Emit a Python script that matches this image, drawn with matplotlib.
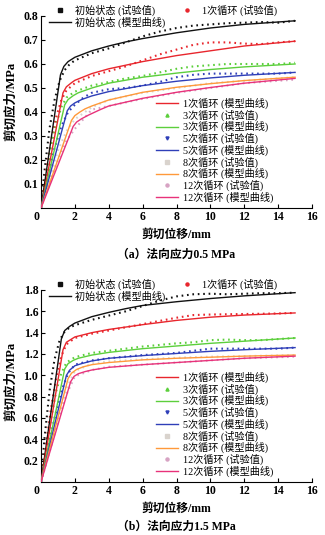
import matplotlib
matplotlib.use("Agg")
import matplotlib.pyplot as plt
from matplotlib.lines import Line2D
from matplotlib.transforms import ScaledTranslation

plt.rcParams['font.family'] = ['Liberation Serif', 'Noto Sans CJK SC']
plt.rcParams['axes.unicode_minus'] = False

# ---------------- data: normal stress 0.5 MPa ----------------
a_init_mod_x = [0, 1.15, 1.35, 1.6, 2, 3, 4, 5, 6, 8, 10, 12, 15]
a_init_mod_y = [0, 0.555, 0.59, 0.61, 0.628, 0.655, 0.675, 0.692, 0.706, 0.73, 0.75, 0.765, 0.78]
a_c1_mod_x = [0, 1.3, 1.5, 1.8, 2, 3, 4, 6, 8, 10, 12, 15]
a_c1_mod_y = [0, 0.48, 0.505, 0.522, 0.532, 0.56, 0.58, 0.61, 0.635, 0.655, 0.675, 0.695]
a_c3_mod_x = [0, 1.4, 1.6, 1.9, 2.2, 3, 4, 6, 8, 10, 12, 15]
a_c3_mod_y = [0, 0.43, 0.452, 0.468, 0.48, 0.50, 0.52, 0.545, 0.562, 0.577, 0.588, 0.60]
a_c5_mod_x = [0, 1.55, 1.75, 2.0, 2.4, 3, 4, 6, 8, 10, 12, 15]
a_c5_mod_y = [0, 0.405, 0.425, 0.438, 0.452, 0.467, 0.485, 0.51, 0.528, 0.542, 0.553, 0.565]
a_c8_mod_x = [0, 1.8, 2.0, 2.3, 2.6, 3, 4, 6, 8, 10, 12, 15]
a_c8_mod_y = [0, 0.365, 0.385, 0.40, 0.413, 0.425, 0.45, 0.482, 0.503, 0.518, 0.531, 0.545]
a_c12_mod_x = [0, 1.9, 2.1, 2.4, 2.8, 3.5, 4, 6, 8, 10, 12, 15]
a_c12_mod_y = [0, 0.34, 0.358, 0.372, 0.387, 0.41, 0.425, 0.457, 0.482, 0.502, 0.52, 0.54]

a_init_exp_x = [0, 0.2, 0.5, 0.8, 1.1, 1.4, 1.7, 2, 3, 4, 5, 6, 7, 8, 9, 10, 11, 12, 13, 14, 15]
a_init_exp_y = [0, 0.15, 0.33, 0.45, 0.53, 0.575, 0.60, 0.615, 0.645, 0.665, 0.69, 0.715, 0.735, 0.75, 0.76, 0.765, 0.77, 0.772, 0.775, 0.772, 0.78]
a_c1_exp_x = [0, 0.3, 0.6, 0.9, 1.2, 1.5, 2, 3, 4, 5, 6, 7, 8, 9, 10, 11, 12, 13, 14, 15]
a_c1_exp_y = [0, 0.15, 0.28, 0.38, 0.45, 0.49, 0.52, 0.55, 0.57, 0.59, 0.615, 0.64, 0.66, 0.68, 0.69, 0.69, 0.685, 0.683, 0.69, 0.695]
a_c3_exp_x = [0, 0.3, 0.6, 0.9, 1.2, 1.5, 2, 3, 4, 5, 6, 7, 8, 9, 10, 11, 12, 13, 14, 15]
a_c3_exp_y = [0, 0.13, 0.26, 0.35, 0.42, 0.46, 0.485, 0.51, 0.525, 0.54, 0.55, 0.565, 0.58, 0.59, 0.595, 0.60, 0.60, 0.60, 0.60, 0.605]
a_c5_exp_x = [0, 0.4, 0.8, 1.2, 1.6, 2, 2.5, 3, 4, 5, 6, 7, 8, 9, 10, 11, 12, 13, 14, 15]
a_c5_exp_y = [0, 0.13, 0.25, 0.34, 0.40, 0.43, 0.46, 0.48, 0.495, 0.50, 0.51, 0.525, 0.545, 0.555, 0.56, 0.56, 0.56, 0.56, 0.56, 0.565]
a_c8_exp_x = [0, 0.5, 1, 1.5, 2, 3, 4, 6, 8, 10, 12, 15]
a_c8_exp_y = [0, 0.12, 0.24, 0.32, 0.37, 0.42, 0.45, 0.48, 0.50, 0.52, 0.53, 0.545]
a_c12_exp_x = [0, 0.5, 1, 1.5, 2, 2.5, 3, 4, 6, 8, 10, 12, 15]
a_c12_exp_y = [0, 0.10, 0.20, 0.28, 0.33, 0.37, 0.41, 0.425, 0.455, 0.48, 0.50, 0.52, 0.535]

# ---------------- data: normal stress 1.5 MPa ----------------
b_init_mod_x = [0, 1.2, 1.4, 1.7, 2, 3, 4, 5, 6, 8, 10, 12, 15]
b_init_mod_y = [0, 1.34, 1.42, 1.46, 1.49, 1.55, 1.59, 1.625, 1.655, 1.69, 1.72, 1.745, 1.775]
b_c1_mod_x = [0, 1.3, 1.5, 1.8, 2, 3, 4, 6, 8, 10, 12, 15]
b_c1_mod_y = [0, 1.24, 1.31, 1.34, 1.36, 1.40, 1.43, 1.475, 1.515, 1.545, 1.565, 1.585]
b_c3_mod_x = [0, 1.4, 1.6, 1.9, 2.2, 3, 4, 6, 8, 10, 12, 15]
b_c3_mod_y = [0, 1.06, 1.11, 1.14, 1.16, 1.19, 1.215, 1.25, 1.275, 1.30, 1.32, 1.35]
b_c5_mod_x = [0, 1.5, 1.7, 2.0, 2.4, 3, 4, 6, 8, 10, 12, 15]
b_c5_mod_y = [0, 1.0, 1.05, 1.09, 1.11, 1.135, 1.16, 1.185, 1.205, 1.225, 1.24, 1.26]
b_c8_mod_x = [0, 1.6, 1.8, 2.1, 2.5, 3, 4, 6, 8, 10, 12, 15]
b_c8_mod_y = [0, 0.97, 1.02, 1.055, 1.08, 1.10, 1.12, 1.145, 1.16, 1.17, 1.18, 1.19]
b_c12_mod_x = [0, 1.75, 1.95, 2.2, 2.6, 3, 4, 6, 8, 10, 12, 15]
b_c12_mod_y = [0, 0.94, 0.99, 1.015, 1.035, 1.05, 1.075, 1.10, 1.12, 1.14, 1.16, 1.18]

b_init_exp_x = [0, 0.2, 0.5, 0.8, 1.1, 1.4, 1.7, 2, 3, 4, 5, 6, 7, 8, 9, 10, 11, 12, 13, 14, 15]
b_init_exp_y = [0, 0.40, 0.85, 1.15, 1.33, 1.41, 1.45, 1.47, 1.52, 1.56, 1.60, 1.65, 1.70, 1.74, 1.76, 1.765, 1.76, 1.765, 1.77, 1.77, 1.775]
b_c1_exp_x = [0, 0.3, 0.6, 0.9, 1.2, 1.5, 2, 3, 4, 6, 7, 8, 9, 10, 12, 14, 15]
b_c1_exp_y = [0, 0.35, 0.70, 0.98, 1.18, 1.29, 1.35, 1.39, 1.42, 1.48, 1.51, 1.54, 1.565, 1.57, 1.575, 1.58, 1.585]
b_c3_exp_x = [0, 0.3, 0.6, 0.9, 1.2, 1.5, 2, 3, 4, 6, 8, 9, 10, 11, 12, 13, 14, 15]
b_c3_exp_y = [0, 0.30, 0.60, 0.85, 1.02, 1.12, 1.17, 1.21, 1.23, 1.27, 1.30, 1.31, 1.33, 1.335, 1.33, 1.33, 1.34, 1.35]
b_c5_exp_x = [0, 0.4, 0.8, 1.2, 1.6, 2, 3, 4, 6, 8, 10, 12, 14, 15]
b_c5_exp_y = [0, 0.30, 0.60, 0.85, 1.02, 1.10, 1.14, 1.16, 1.19, 1.21, 1.25, 1.25, 1.25, 1.26]
b_c8_exp_x = [0, 0.5, 1, 1.5, 2, 3, 4, 6, 8, 10, 12, 15]
b_c8_exp_y = [0, 0.32, 0.62, 0.88, 1.04, 1.11, 1.13, 1.15, 1.165, 1.175, 1.18, 1.19]
b_c12_exp_x = [0, 0.5, 1, 1.5, 2, 3, 4, 6, 8, 10, 12, 15]
b_c12_exp_y = [0, 0.28, 0.56, 0.82, 0.99, 1.05, 1.08, 1.10, 1.12, 1.14, 1.16, 1.175]

cycles = ['初始状态', '1次循环', '3次循环', '5次循环', '8次循环', '12次循环']
line_colors = ['#111111', '#e8262d', '#5ccf3c', '#2f3fb8', '#ff993a', '#e8327a']
dot_colors = ['#111111', '#e8262d', '#5ccf3c', '#2f3fb8', '#d9d3cd', '#d7a3c3']
dot_markers = ['s', 'o', '^', 'v', 's', 'o']
xticks = [0, 2, 4, 6, 8, 10, 12, 14, 16]
a_yticks = [0.1, 0.2, 0.3, 0.4, 0.5, 0.6, 0.7, 0.8]
b_yticks = [0.2, 0.4, 0.6, 0.8, 1.0, 1.2, 1.4, 1.6, 1.8]

panels = [
    dict(mod=[(a_init_mod_x, a_init_mod_y), (a_c1_mod_x, a_c1_mod_y), (a_c3_mod_x, a_c3_mod_y),
              (a_c5_mod_x, a_c5_mod_y), (a_c8_mod_x, a_c8_mod_y), (a_c12_mod_x, a_c12_mod_y)],
         exp=[(a_init_exp_x, a_init_exp_y), (a_c1_exp_x, a_c1_exp_y), (a_c3_exp_x, a_c3_exp_y),
              (a_c5_exp_x, a_c5_exp_y), (a_c8_exp_x, a_c8_exp_y), (a_c12_exp_x, a_c12_exp_y)],
         yticks=a_yticks, ylim=0.8, cap_y=-0.245, ylab_y=0.557,
         caption='（a）法向应力0.5 MPa', rect=[41/325, 1-208/535, 271/325, 192/535]),
    dict(mod=[(b_init_mod_x, b_init_mod_y), (b_c1_mod_x, b_c1_mod_y), (b_c3_mod_x, b_c3_mod_y),
              (b_c5_mod_x, b_c5_mod_y), (b_c8_mod_x, b_c8_mod_y), (b_c12_mod_x, b_c12_mod_y)],
         exp=[(b_init_exp_x, b_init_exp_y), (b_c1_exp_x, b_c1_exp_y), (b_c3_exp_x, b_c3_exp_y),
              (b_c5_exp_x, b_c5_exp_y), (b_c8_exp_x, b_c8_exp_y), (b_c12_exp_x, b_c12_exp_y)],
         yticks=b_yticks, ylim=1.8, cap_y=-0.234, ylab_y=0.526,
         caption='（b）法向应力1.5 MPa', rect=[41/325, 1-482/535, 271/325, 192/535]),
]

fig = plt.figure(figsize=(3.25, 5.35), dpi=100)

for p in panels:
    ax = fig.add_axes(p['rect'])
    for i in range(6):
        ex, ey = p['exp'][i]
        ax.plot(ex, ey, color=dot_colors[i], lw=1.5, ls=(0, (0.8, 1.8)),
                dash_capstyle='butt', zorder=2)
    for i in range(6):
        mx, my = p['mod'][i]
        ax.plot(mx, my, color=line_colors[i], lw=1.0, zorder=3)

    ax.set_xlim(0, 16)
    ax.set_ylim(0, p['ylim'])
    ax.set_xticks(xticks)
    ax.set_xticklabels([str(t) for t in xticks])
    ax.set_yticks(p['yticks'])
    ax.set_yticklabels(['{:.1f}'.format(t) for t in p['yticks']])
    for s in ('top', 'right'):
        ax.spines[s].set_visible(False)
    for s in ('left', 'bottom'):
        ax.spines[s].set_linewidth(0.8)
    ax.tick_params(direction='in', length=3, width=0.8, labelsize=8.5, pad=2)
    for lab in ax.get_xticklabels() + ax.get_yticklabels():
        lab.set_fontweight('bold')
    first = ax.get_xticklabels()[0]
    first.set_transform(first.get_transform() + ScaledTranslation(-4/100, 0, fig.dpi_scale_trans))

    ax.set_xlabel('剪切位移/mm', fontsize=8.5, fontweight='bold', labelpad=4)
    ax.set_ylabel('剪切应力/MPa', fontsize=9, fontweight='bold')
    ax.yaxis.set_label_coords(-0.088, p['ylab_y'])
    ax.text(0.5, p['cap_y'], p['caption'], transform=ax.transAxes, ha='center', va='center',
            fontsize=8.5, fontweight='bold')

    def dot_handle(i):
        return Line2D([], [], ls='none', marker=dot_markers[i], ms=2.2,
                      color=dot_colors[i], mec=dot_colors[i])

    def line_handle(i):
        return Line2D([], [], color=line_colors[i], lw=1.0)

    h1 = [dot_handle(0), line_handle(0), dot_handle(1)]
    l1 = [cycles[0] + ' (试验值)', cycles[0] + ' (模型曲线)', cycles[1] + ' (试验值)']
    leg1 = ax.legend(h1, l1, loc='upper left', bbox_to_anchor=(0.03, 1.058), ncol=2,
                     frameon=False, fontsize=7.3, handlelength=2.2, handletextpad=0.4,
                     labelspacing=0.05, columnspacing=1.0, borderaxespad=0, borderpad=0)
    ax.add_artist(leg1)

    h2, l2 = [line_handle(1)], [cycles[1] + ' (模型曲线)']
    for i in range(2, 6):
        h2 += [dot_handle(i), line_handle(i)]
        l2 += [cycles[i] + ' (试验值)', cycles[i] + ' (模型曲线)']
    ax.legend(h2, l2, loc='upper left', bbox_to_anchor=(0.425, 0.575),
              frameon=False, fontsize=7.3, handlelength=2.2, handletextpad=0.4,
              labelspacing=0.05, borderaxespad=0, borderpad=0)

fig.savefig('out.png', dpi=100)
